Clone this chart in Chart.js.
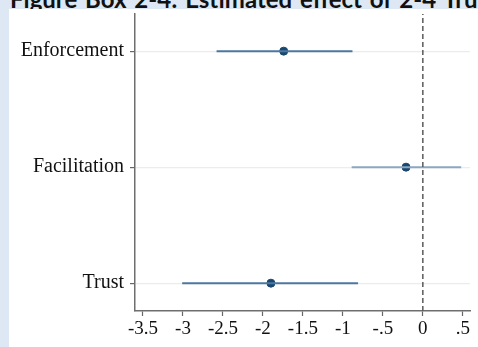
<!DOCTYPE html>
<html>
<head>
<meta charset="utf-8">
<script src="https://cdn.jsdelivr.net/npm/chart.js@4"></script>
<style>
  html, body { margin: 0; padding: 0; }
  body { width: 478px; height: 347px; background: #dde8f4; position: relative; overflow: hidden; }
  #title { position: absolute; left: 10px; top: -16px; white-space: nowrap; line-height: 24px;
    font: bold 24px "Lato", "Open Sans", sans-serif; color: #111; word-spacing: 2px; }
  #panel { position: absolute; left: 9px; top: 9px; width: 469px; height: 338px; background: #fff; }
</style>
</head>
<body>
<div id="title">Figure Box 2-4: Estimated effect of 2-4 Trust</div>
<div id="panel"><canvas id="myChart" width="469" height="338"></canvas></div>
<script>
const categories = ["Trust", "Facilitation", "Enforcement"];
const rowPos = [1, 2, 3];
const estimates = [-1.9, -0.21, -1.74];
const ciLow = [-3.01, -0.89, -2.58];
const ciHigh = [-0.81, 0.48, -0.88];
const ciColors = ["#4d77a1", "#8ea7c1", "#4d77a1"];
const xTicks = [-3.5, -3, -2.5, -2, -1.5, -1, -0.5, 0, 0.5];
const xTickLabels = ["-3.5", "-3", "-2.5", "-2", "-1.5", "-1", "-.5", "0", ".5"];
const refLineX = 0;
const yMin = 0.76;
const yMax = 3.32;

const serif = "'Liberation Serif', 'Times New Roman', serif";

// one line per confidence interval
const ciSets = categories.map((cat, i) => ({
  type: "line",
  data: [{ x: ciLow[i], y: rowPos[i] }, { x: ciHigh[i], y: rowPos[i] }],
  borderColor: ciColors[i],
  borderWidth: 2,
  pointRadius: 0,
}));

const refSet = {
  type: "line",
  data: [{ x: refLineX, y: yMin }, { x: refLineX, y: yMax }],
  borderColor: "#5a5a5a",
  borderWidth: 1.5,
  borderDash: [5, 3],
  pointRadius: 0,
};

const pointSet = {
  type: "scatter",
  data: estimates.map((v, i) => ({ x: v, y: rowPos[i] })),
  backgroundColor: "#1a476f",
  borderColor: "#1a476f",
  pointRadius: 4,
};

new Chart("myChart", {
  type: "scatter",
  data: { datasets: [refSet, ...ciSets, pointSet] },
  options: {
    responsive: false,
    animation: false,
    layout: { padding: { top: 0, right: 8, left: 0, bottom: 0 } },
    plugins: { legend: { display: false }, tooltip: { enabled: false } },
    scales: {
      x: {
        type: "linear",
        min: -3.6,
        max: 0.59,
        afterBuildTicks: (s) => { s.ticks = xTicks.map((v) => ({ value: v })); },
        afterFit: (s) => { s.height = 36; },
        ticks: {
          callback: (v) => xTickLabels[xTicks.indexOf(v)],
          font: { family: serif, size: 19 },
          color: "#111",
          padding: 2,
          maxRotation: 0,
          autoSkip: false,
        },
        grid: { color: "rgba(0,0,0,0)", tickColor: "#666", tickLength: 5, tickWidth: 1.2 },
        border: { color: "#6e6e6e", width: 1.5 },
      },
      y: {
        type: "linear",
        min: yMin,
        max: yMax,
        afterBuildTicks: (s) => { s.ticks = rowPos.map((v) => ({ value: v })); },
        afterFit: (s) => { s.width = 126; s.paddingTop = 0; s.paddingBottom = 0; },
        ticks: {
          callback: (v) => categories[rowPos.indexOf(v)],
          font: { family: serif, size: 20 },
          color: "#111",
          padding: 6,
        },
        grid: { color: "#ececec", lineWidth: 1.2, tickColor: "#666", tickLength: 5, tickWidth: 1.2 },
        border: { color: "#6e6e6e", width: 1.5 },
      },
    },
  },
});
</script>
</body>
</html>
